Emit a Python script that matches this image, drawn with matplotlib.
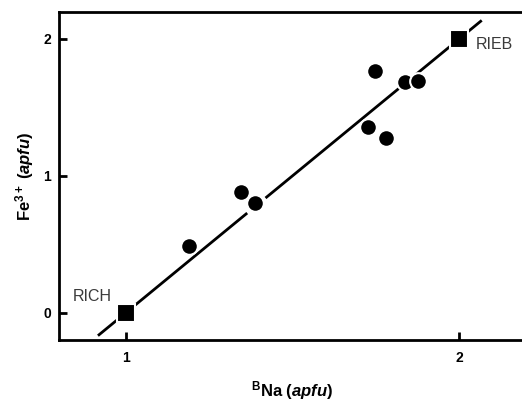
import matplotlib
matplotlib.use('Agg')
import matplotlib.pyplot as plt
import numpy as np

plt.rcParams['font.family'] = ['Liberation Sans', 'DejaVu Sans']
plt.rcParams['mathtext.fontset'] = 'custom'
plt.rcParams['mathtext.rm'] = 'Liberation Sans:bold'
plt.rcParams['mathtext.it'] = 'Liberation Sans:bold:italic'
plt.rcParams['mathtext.bf'] = 'Liberation Sans:bold'

# measured amphiboles
na_b = [1.19, 1.344, 1.386, 1.727, 1.749, 1.781, 1.839, 1.878]
fe3 = [0.488, 0.883, 0.802, 1.359, 1.768, 1.276, 1.683, 1.693]

# end members
end_names = ['RICH', 'RIEB']
end_na = [1.0, 2.0]
end_fe = [0.0, 2.0]

# 1:2 substitution line (drawn in two pieces, gap as in the original)
line_pieces = [(0.916, 1.364), (1.419, 2.068)]

fig = plt.figure(figsize=(5.22, 4.01), dpi=100)
ax = fig.add_axes([0.1136, 0.152, 0.8935, 0.819])

for x0, x1 in line_pieces:
    lx = np.array([x0, x1])
    ax.plot(lx, 2 * (lx - 1), color='black', lw=2.0, zorder=2, solid_capstyle='butt')
ax.plot(na_b, fe3, 'o', color='black', ms=12, mec='white', mew=1.5, zorder=3)
ax.plot(end_na, end_fe, 's', color='black', ms=12.5, mec='white', mew=1.5, zorder=3)

ax.text(end_na[0] - 0.16, end_fe[0] + 0.12, end_names[0], fontsize=11.5,
        color='#3a3a3a', ha='left', va='center')
ax.text(end_na[1] + 0.05, end_fe[1] - 0.04, end_names[1], fontsize=11.5,
        color='#3a3a3a', ha='left', va='center')

ax.set_xlim(0.8, 2.2)
ax.set_ylim(-0.2, 2.2)
ax.set_xticks([1, 2])
ax.set_yticks([0, 1, 2])
ax.tick_params(direction='in', length=6, width=2, labelsize=10)
ax.tick_params(axis='x', pad=8)
ax.tick_params(axis='y', pad=6)
for lab in ax.get_xticklabels() + ax.get_yticklabels():
    lab.set_fontweight('bold')
for s in ax.spines.values():
    s.set_linewidth(2)

ax.set_xlabel(r'$^{\mathrm{B}}$Na ($\mathit{apfu}$)', fontsize=12, fontweight='bold', labelpad=10)
ax.set_ylabel(r'Fe$^{\mathrm{3+}}$ ($\mathit{apfu}$)', fontsize=12, fontweight='bold', labelpad=5)

fig.savefig('out.png', dpi=100)
